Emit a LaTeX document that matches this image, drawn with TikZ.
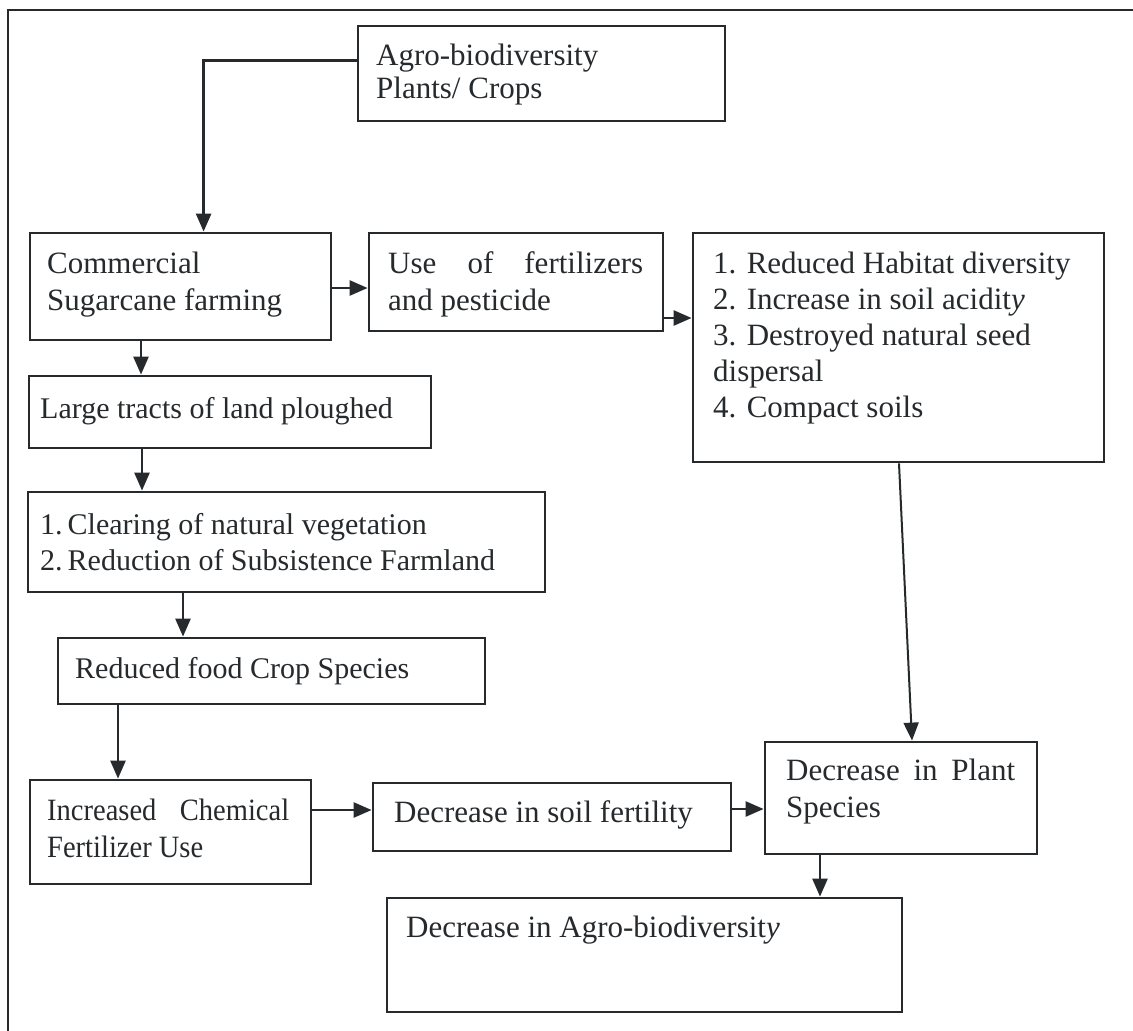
\documentclass[tikz,border=0pt]{standalone}
\usepackage{fontspec}
\setmainfont{Liberation Serif}
\newfontfamily\condfont[FakeStretch=0.92]{Liberation Serif}
\usetikzlibrary{arrows.meta,fit,calc}
\definecolor{ink}{HTML}{262A2C}
\begin{document}
\begin{tikzpicture}[x=1pt,y=-1pt,
  box/.style={draw=ink,line width=2.8pt,inner sep=0pt,rectangle},
  txt/.style={anchor=base west,inner sep=0pt,text=ink,font=\fontsize{31}{36}\selectfont},
  txts/.style={txt,font=\fontsize{30}{36}\selectfont},
  txtc/.style={txt,font=\condfont\fontsize{31}{36}\selectfont},
  arr/.style={draw=ink,line width=2.6pt,-{Triangle[length=18pt,width=15pt]}},
  frame/.style={draw=ink,line width=2.4pt}]
\useasboundingbox (0,0) rectangle (1133,1031);
\fill[white] (0,0) rectangle (1133,1031);
\coordinate (fa) at (8,1031);
\coordinate (fb) at (8,10);
\coordinate (fc) at (1133,10);
\draw[frame] (fa) -- (fb) -- (fc);

% boxes
\node[box,fit={(358,26) (725,121)}] (b1) {};
\node[box,fit={(30,233) (331,340)}] (b2) {};
\node[box,fit={(369,233) (663,331)}] (b3) {};
\node[box,fit={(693,233) (1104,462)}] (b4) {};
\node[box,fit={(29,376) (431,448)}] (b5) {};
\node[box,fit={(28,492) (545,592)}] (b6) {};
\node[box,fit={(58,638) (485,704)}] (b7) {};
\node[box,fit={(30,780) (311,884)}] (b8) {};
\node[box,fit={(373,783) (731,851)}] (b9) {};
\node[box,fit={(765,742) (1037,854)}] (b10) {};
\node[box,fit={(387,898) (902,1012)}] (b11) {};

% texts
\node[txt] (t1a) at (376,65) {Agro-biodiversity};
\node[txt] (t1b) at (376,98) {Plants/ Crops};
\node[txt] (t2a) at (47,273) {Commercial};
\node[txt] (t2b) at (47,310) {Sugarcane farming};
\node[txt] (t3a) at (388,273) {\makebox[255pt][s]{Use of fertilizers}};
\node[txt] (t3b) at (388,310) {and pesticide};
\node[txt] (t4a) at (713,273) {1. Reduced Habitat diversity};
\node[txt] (t4b) at (713,309) {2. Increase in soil acidit\textit{y}};
\node[txt] (t4c) at (713,345) {3. Destroyed natural seed};
\node[txt] (t4d) at (713,381) {dispersal};
\node[txt] (t4e) at (713,417) {4. Compact soils};
\node[txts] (t5) at (40,418) {Large tracts of land ploughed};
\node[txts] (t6a) at (40,534) {1.\,Clearing of natural vegetation};
\node[txts] (t6b) at (40,570) {2.\,Reduction of Subsistence Farmland};
\node[txts] (t7) at (75,678) {Reduced food Crop Species};
\node[txtc] (t8a) at (47,820) {\makebox[242pt][s]{Increased Chemical}};
\node[txtc] (t8b) at (47,857) {Fertilizer Use};
\node[txt] (t9) at (394,822) {Decrease in soil fertility};
\node[txt] (t10a) at (786,780) {\makebox[229pt][s]{Decrease in Plant}};
\node[txt] (t10b) at (786,817) {Species};
\node[txt] (t11) at (406,937) {Decrease in Agro-biodiversit\textit{y}};

% connectors
\draw[arr] ($(b1.north west)+(0,36)$) -| ($(b2.north west)+(175,0)$);
\draw[arr] (b2.east |- 0,288) -- (b3.west |- 0,288);
\draw[arr] (b3.east |- 0,318) -- (b4.west |- 0,318);
\draw[arr] (b2.south -| 141,0) -- (b5.north -| 141,0);
\draw[arr] (b5.south -| 142,0) -- (b6.north -| 142,0);
\draw[arr] (b6.south -| 183,0) -- (b7.north -| 183,0);
\draw[arr] (b7.south -| 118,0) -- (b8.north -| 118,0);
\draw[arr] (b8.east |- 0,810) -- (b9.west |- 0,810);
\draw[arr] (b9.east |- 0,809) -- (b10.west |- 0,809);
\draw[arr,line width=2pt] (b4.south -| 899,0) -- (b10.north -| 912,0);
\draw[arr] (b10.south -| 820,0) -- (b11.north -| 820,0);
\end{tikzpicture}
\end{document}
